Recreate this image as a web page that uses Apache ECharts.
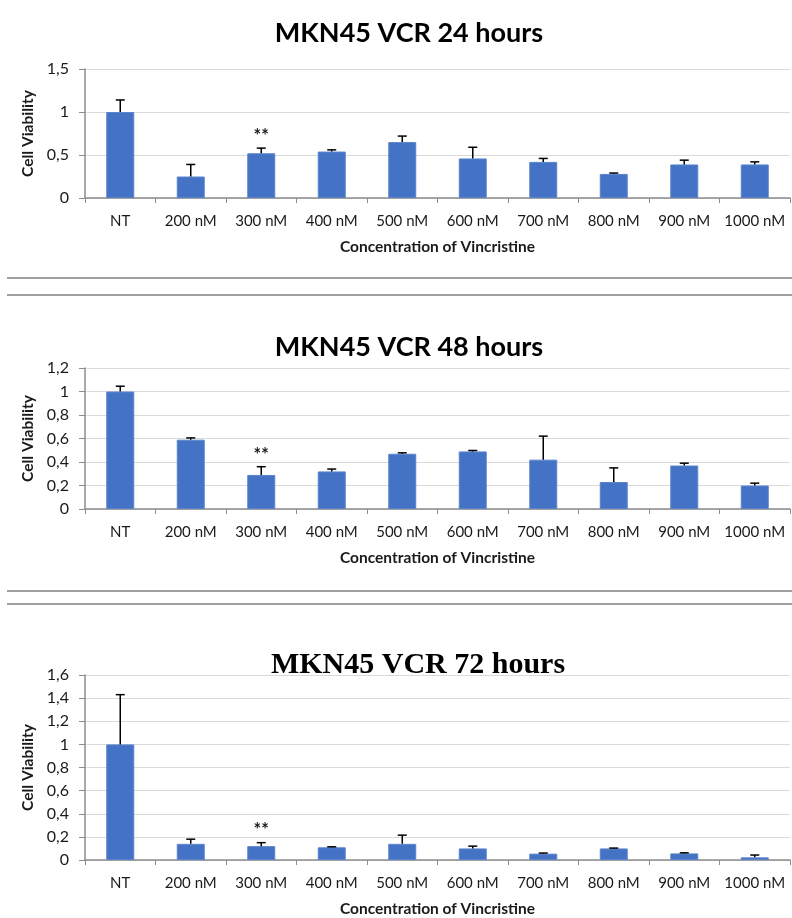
<!DOCTYPE html>
<html>
<head>
<meta charset="utf-8">
<script src="https://cdn.jsdelivr.net/npm/echarts@6/dist/echarts.min.js"></script>
<style>
    html, body { margin: 0; padding: 0; background: #fff; }
    #chart { width: 792px; height: 918px; }
</style>
</head>
<body>
<div id="chart"></div>
<script>
// 数据
const categories = ['NT', '200 nM', '300 nM', '400 nM', '500 nM', '600 nM', '700 nM', '800 nM', '900 nM', '1000 nM'];

const viability24 = [1.0, 0.25, 0.52, 0.54, 0.65, 0.46, 0.42, 0.28, 0.39, 0.39];
const error24 = [0.14, 0.14, 0.06, 0.02, 0.07, 0.13, 0.04, 0.01, 0.05, 0.03];

const viability48 = [1.0, 0.59, 0.29, 0.32, 0.47, 0.49, 0.42, 0.23, 0.37, 0.20];
const error48 = [0.045, 0.015, 0.07, 0.02, 0.008, 0.008, 0.2, 0.12, 0.02, 0.02];

const viability72 = [1.0, 0.14, 0.12, 0.11, 0.14, 0.10, 0.055, 0.10, 0.057, 0.023];
const error72 = [0.43, 0.04, 0.03, 0.004, 0.075, 0.02, 0.005, 0.003, 0.005, 0.02];

const significance = ['', '', '**', '', '', '', '', '', '', ''];

const yMax = [1.5, 1.2, 1.6];
const yStep = [0.5, 0.2, 0.2];
const titles = ['MKN45 VCR 24 hours', 'MKN45 VCR 48 hours', 'MKN45 VCR 72 hours'];

window.addEventListener('DOMContentLoaded', function() {
    initCharts();
});

function initCharts() {
    const chart = echarts.init(document.getElementById('chart'));
    const font = 'Lato, "Open Sans", sans-serif';
    const values = [viability24, viability48, viability72];
    const errors = [error24, error48, error72];

    const grids = [
        { left: 85, width: 705, top: 69, height: 129 },
        { left: 85, width: 705, top: 368, height: 141 },
        { left: 85, width: 705, top: 675, height: 188 }
    ];

    const xAxes = [];
    const yAxes = [];
    const series = [];

    for (let i = 0; i < 3; i++) {
        xAxes.push({
            type: 'category',
            gridIndex: i,
            data: categories,
            name: 'Concentration of Vincristine',
            nameLocation: 'middle',
            nameGap: 41,
            nameTextStyle: { fontFamily: font, fontWeight: 'bold', fontSize: 15.5, color: '#1a1a1a' },
            axisLine: { lineStyle: { color: '#8c8c8c', width: 1.5 } },
            axisTick: { show: true, length: 5, lineStyle: { color: '#8c8c8c' } },
            axisLabel: { fontFamily: font, fontSize: 15, color: '#1a1a1a', margin: 16, interval: 0 }
        });
        yAxes.push({
            type: 'value',
            gridIndex: i,
            min: 0,
            max: yMax[i],
            interval: yStep[i],
            name: 'Cell Viability',
            nameLocation: 'middle',
            nameGap: 44,
            nameTextStyle: { fontFamily: font, fontWeight: 'bold', fontSize: 15.5, color: '#1a1a1a' },
            axisLine: { show: true, lineStyle: { color: '#8c8c8c', width: 1.5 } },
            axisTick: { show: true, length: 6, lineStyle: { color: '#8c8c8c' } },
            splitLine: { lineStyle: { color: '#d9d9d9', width: 1.2 } },
            axisLabel: {
                fontFamily: font,
                fontSize: 16,
                color: '#1a1a1a',
                margin: 16,
                formatter: function(v) {
                    return String(parseFloat(v.toFixed(1))).replace('.', ',');
                }
            }
        });
        series.push({
            type: 'bar',
            xAxisIndex: i,
            yAxisIndex: i,
            data: values[i],
            barWidth: 28,
            itemStyle: { color: '#4472C4', borderColor: '#5b84cc', borderWidth: 1 }
        });
        // 误差线 + 显著性标记
        const errData = values[i].map((v, k) => [k, v, errors[i][k], significance[k]]);
        series.push({
            type: 'custom',
            xAxisIndex: i,
            yAxisIndex: i,
            data: errData,
            z: 10,
            renderItem: function(params, api) {
                const k = api.value(0);
                const v = api.value(1);
                const e = api.value(2);
                const bottom = api.coord([k, v]);
                const top = api.coord([k, v + e]);
                const children = [
                    {
                        type: 'line',
                        shape: { x1: top[0], y1: bottom[1], x2: top[0], y2: top[1] },
                        style: { stroke: '#000', lineWidth: 1.5 }
                    },
                    {
                        type: 'line',
                        shape: { x1: top[0] - 4.5, y1: top[1], x2: top[0] + 4.5, y2: top[1] },
                        style: { stroke: '#000', lineWidth: 1.5 }
                    }
                ];
                const mark = errData[params.dataIndex][3];
                if (mark) {
                    children.push({
                        type: 'text',
                        x: top[0],
                        y: top[1] - 12,
                        style: {
                            text: mark,
                            fontFamily: font,
                            fontSize: 18,
                            fontWeight: 'bold',
                            fill: '#1a1a1a',
                            align: 'center',
                            verticalAlign: 'middle'
                        }
                    });
                }
                return { type: 'group', children: children };
            }
        });
    }

    const sepLine = function(y) {
        return {
            type: 'line',
            shape: { x1: 7, y1: y, x2: 792, y2: y },
            style: { stroke: '#808080', lineWidth: 1.5 }
        };
    };

    const option = {
        animation: false,
        title: [
            { text: titles[0], left: 404, top: 15, textAlign: 'center',
              textStyle: { fontFamily: font, fontWeight: 'bold', fontSize: 27, color: '#000' } },
            { text: titles[1], left: 404, top: 329, textAlign: 'center',
              textStyle: { fontFamily: font, fontWeight: 'bold', fontSize: 27, color: '#000' } },
            { text: titles[2], left: 413, top: 645, textAlign: 'center',
              textStyle: { fontFamily: '"Liberation Serif", serif', fontWeight: 'bold', fontSize: 30, color: '#000' } }
        ],
        grid: grids,
        xAxis: xAxes,
        yAxis: yAxes,
        series: series,
        graphic: [sepLine(278), sepLine(295), sepLine(591), sepLine(604)]
    };
    chart.setOption(option);
}
</script>
</body>
</html>
